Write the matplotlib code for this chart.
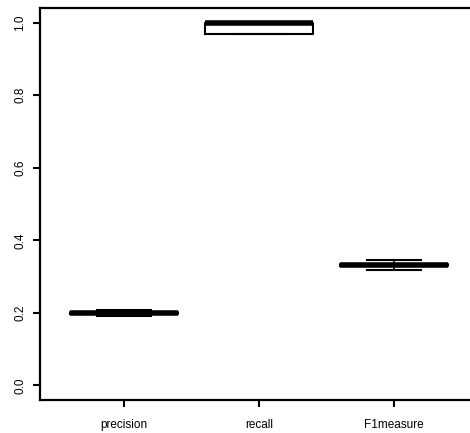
import matplotlib
matplotlib.use("Agg")
import matplotlib.pyplot as plt

plt.rcParams["font.family"] = ["Liberation Sans", "DejaVu Sans"]

# values
labels = ["precision", "recall", "F1measure"]
medians = [0.200, 1.000, 0.331]
q1 = [0.198, 0.968, 0.328]
q3 = [0.202, 1.000, 0.335]
whis_lo = [0.191, 0.968, 0.319]
whis_hi = [0.209, 1.000, 0.345]
yticks = [0.0, 0.2, 0.4, 0.6, 0.8, 1.0]

stats = []
for i, lab in enumerate(labels):
    stats.append(dict(label=lab, med=medians[i], q1=q1[i], q3=q3[i],
                      whislo=whis_lo[i], whishi=whis_hi[i], fliers=[]))

fig = plt.figure(figsize=(4.70, 4.33), dpi=100)
# right edge of the plot box runs past the image like in the original
ax = fig.add_axes([40 / 470, 33 / 433, 437.7 / 470, 392 / 433])

ax.bxp(stats, positions=[1, 2, 3], widths=0.8, capwidths=0.4,
       boxprops=dict(color="black", linewidth=1.5),
       medianprops=dict(color="black", linewidth=4, solid_capstyle="butt"),
       whiskerprops=dict(color="black", linewidth=1.2, linestyle="--"),
       capprops=dict(color="black", linewidth=1.5))

ax.set_xlim(0.38, 3.62)
ax.set_ylim(-0.04, 1.04)
ax.set_yticks(yticks)
ax.set_yticklabels([f"{t:.1f}" for t in yticks], rotation=90, va="center")
ax.set_xticks([1, 2, 3])
ax.set_xticklabels(labels)

for sp in ax.spines.values():
    sp.set_linewidth(1.6)
ax.tick_params(axis="both", length=5, width=1.5, labelsize=8.5)
ax.tick_params(axis="x", pad=9)
ax.tick_params(axis="y", pad=5)

plt.savefig("out.png", dpi=100)
plt.close()
